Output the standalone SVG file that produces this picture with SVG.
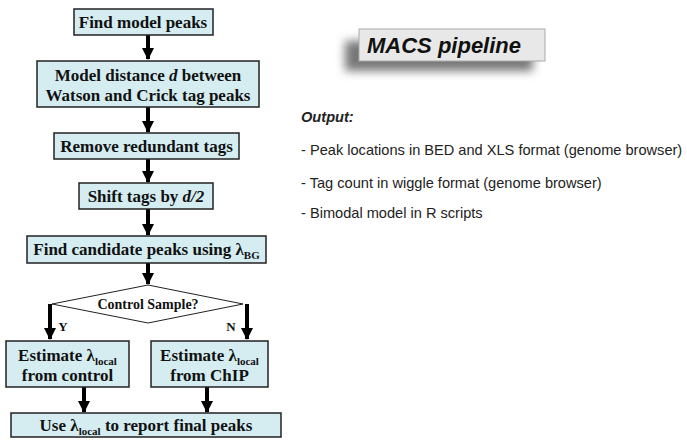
<svg xmlns="http://www.w3.org/2000/svg" width="687" height="446" viewBox="0 0 687 446">
<style>
.box{fill:#d5edf1;stroke:#222;stroke-width:1.5}
.t{font-family:"Liberation Serif","Times New Roman",serif;font-weight:bold;font-size:17px;fill:#111;text-anchor:middle}
.s{font-size:11px}
.a{stroke:#000;stroke-width:4;fill:none}
.r{font-family:"Liberation Sans",Arial,sans-serif;font-size:14.6px;fill:#222}
</style>
<defs>
<marker id="ah" markerUnits="userSpaceOnUse" markerWidth="14" markerHeight="12" refX="7" refY="11" orient="0" viewBox="0 0 14 12">
<polygon points="1,0 13,0 7,12" fill="#000"/>
</marker>
<filter id="blur" x="-20%" y="-50%" width="140%" height="200%"><feGaussianBlur stdDeviation="5"/></filter>
</defs>
<rect width="687" height="446" fill="#fff"/>
<g id="connectors">
<path class="a" d="M148,35 V59" marker-end="url(#ah)"/>
<path class="a" d="M148,107 V132" marker-end="url(#ah)"/>
<path class="a" d="M148,159 V182" marker-end="url(#ah)"/>
<path class="a" d="M148,209 V235" marker-end="url(#ah)"/>
<path class="a" d="M148,263 V284" marker-end="url(#ah)"/>
<path class="a" d="M50,304 V339" marker-end="url(#ah)"/>
<path class="a" d="M247,304 V339" marker-end="url(#ah)"/>
<path class="a" d="M84,387 V412" marker-end="url(#ah)"/>
<path class="a" d="M207,387 V412" marker-end="url(#ah)"/>
<text class="t" x="63" y="331" style="font-size:13px">Y</text>
<text class="t" x="231" y="331" style="font-size:13px">N</text>
</g>
<g id="n1"><rect class="box" x="74" y="9" width="139" height="26"/><text class="t" x="143" y="28">Find model peaks</text></g>
<g id="n2"><rect class="box" x="37" y="61" width="222" height="46"/>
<text class="t" x="148" y="81">Model distance <tspan font-style="italic">d</tspan> between</text>
<text class="t" x="148" y="101">Watson and Crick tag peaks</text></g>
<g id="n3"><rect class="box" x="54" y="133" width="185" height="26"/><text class="t" x="146.5" y="152">Remove redundant tags</text></g>
<g id="n4"><rect class="box" x="79" y="183" width="134" height="26"/><text class="t" x="146" y="202">Shift tags by <tspan font-style="italic">d/2</tspan></text></g>
<g id="n5"><rect class="box" x="27" y="236" width="239" height="27"/><text class="t" x="146.5" y="255">Find candidate peaks using λ<tspan class="s" dy="4">BG</tspan></text></g>
<g id="n6"><polygon points="148,285 243,304 148,323 52,304" fill="#fff" stroke="#222" stroke-width="1"/><text class="t" x="148" y="309" style="font-size:14px">Control Sample?</text></g>
<g id="n7"><rect class="box" x="6" y="341" width="123" height="46"/>
<text class="t" x="67.5" y="361">Estimate λ<tspan class="s" dy="4">local</tspan></text>
<text class="t" x="67.5" y="381">from control</text></g>
<g id="n8"><rect class="box" x="151" y="341" width="117" height="46"/>
<text class="t" x="209.5" y="361">Estimate λ<tspan class="s" dy="4">local</tspan></text>
<text class="t" x="209.5" y="381">from ChIP</text></g>
<g id="n9"><rect class="box" x="11" y="413" width="270" height="24"/><text class="t" x="146" y="431">Use λ<tspan class="s" dy="4">local</tspan><tspan dy="-4"> to report final peaks</tspan></text></g>
<g id="title">
<rect x="345" y="41" width="188" height="30" fill="#777" filter="url(#blur)"/>
<rect x="359" y="29" width="186" height="32" fill="#e8e8e8" stroke="#aaa" stroke-width="1"/>
<text x="367" y="53" font-family="Liberation Sans,Arial,sans-serif" font-size="22" font-weight="bold" font-style="italic" fill="#111">MACS pipeline</text>
</g>
<g id="output">
<text class="r" x="301" y="122" font-weight="bold" font-style="italic">Output:</text>
<text class="r" x="301" y="155">- Peak locations in BED and XLS format (genome browser)</text>
<text class="r" x="301" y="188">- Tag count in wiggle format (genome browser)</text>
<text class="r" x="301" y="218">- Bimodal model in R scripts</text>
</g>
</svg>
